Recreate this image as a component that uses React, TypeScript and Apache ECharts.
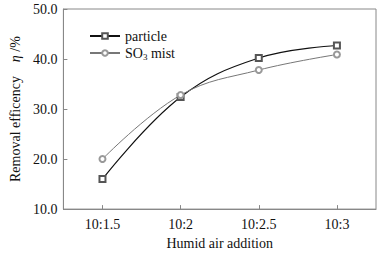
import React, { useEffect, useRef } from "react";
import * as echarts from "echarts";

const categories = ["10:1.5", "10:2", "10:2.5", "10:3"];
const particle = [16.0, 32.4, 40.2, 42.7];
const so3Mist = [20.0, 32.8, 37.8, 40.9];
const yTicks = { min: 10, max: 50, interval: 10 };

const FONT = "'Liberation Serif', 'Times New Roman', serif";
const FS = 14;

export default function App() {
  const ref = useRef<HTMLDivElement>(null);
  useEffect(() => {
    if (!ref.current) return;
    const chart = echarts.init(ref.current, null, { renderer: "svg" });
    chart.setOption({
      animation: false,
      backgroundColor: "#fff",
      grid: {
        left: 60,
        right: 9,
        top: 9,
        bottom: 39,
        show: true,
        borderColor: "#888",
        borderWidth: 1,
      },
      legend: {
        orient: "vertical",
        left: 84,
        top: 24,
        itemWidth: 30,
        itemHeight: 7,
        itemGap: 3,
        itemStyle: { borderWidth: 0.7 },
        textStyle: {
          fontFamily: FONT,
          fontSize: FS,
          color: "#111",
          rich: {
            sub: { fontFamily: FONT, fontSize: 9, verticalAlign: "bottom", padding: [7, 0, 0, 0], color: "#111" },
          },
        },
        formatter: (name: string) => (name === "SO3 mist" ? "SO{sub|3} mist" : name),
        data: ["particle", "SO3 mist"],
      },
      xAxis: {
        type: "category",
        data: categories,
        boundaryGap: true,
        name: "Humid air addition",
        nameLocation: "middle",
        nameGap: 26,
        nameTextStyle: { fontFamily: FONT, fontSize: FS, color: "#111" },
        axisLine: { lineStyle: { color: "#888" } },
        axisTick: { show: true, inside: true, alignWithLabel: true, length: 4, lineStyle: { color: "#888" } },
        axisLabel: { fontFamily: FONT, fontSize: FS, color: "#111", margin: 8 },
        splitLine: { show: false },
      },
      yAxis: {
        type: "value",
        min: yTicks.min,
        max: yTicks.max,
        interval: yTicks.interval,
        name: "{n|Removal efficency    }{i|η}{n| /%}",
        nameLocation: "middle",
        nameGap: 41,
        nameTextStyle: {
          fontFamily: FONT,
          fontSize: FS,
          color: "#111",
          rich: {
            n: { fontFamily: FONT, fontSize: FS, color: "#111" },
            i: { fontFamily: FONT, fontSize: FS, fontStyle: "italic", color: "#111" },
          },
        },
        axisLine: { show: true, lineStyle: { color: "#888" } },
        axisTick: { show: true, inside: true, length: 4, lineStyle: { color: "#888" } },
        axisLabel: {
          fontFamily: FONT,
          fontSize: FS,
          color: "#111",
          margin: 6,
          formatter: (v: number) => v.toFixed(1),
        },
        splitLine: { show: false },
      },
      series: [
        {
          name: "particle",
          type: "line",
          data: particle,
          smooth: 0.4,
          symbol: "emptyRect",
          symbolSize: 6,
          lineStyle: { color: "#111", width: 1.2 },
          itemStyle: { color: "#555", borderColor: "#555", borderWidth: 0.7 },
        },
        {
          name: "SO3 mist",
          type: "line",
          data: so3Mist,
          smooth: 0.4,
          symbol: "emptyCircle",
          symbolSize: 6,
          lineStyle: { color: "#777", width: 1 },
          itemStyle: { color: "#999", borderColor: "#999", borderWidth: 0.7 },
        },
      ],
    });
    return () => chart.dispose();
  }, []);
  return <div ref={ref} style={{ width: 385, height: 255, position: "absolute", left: 0, top: 0 }} />;
}
